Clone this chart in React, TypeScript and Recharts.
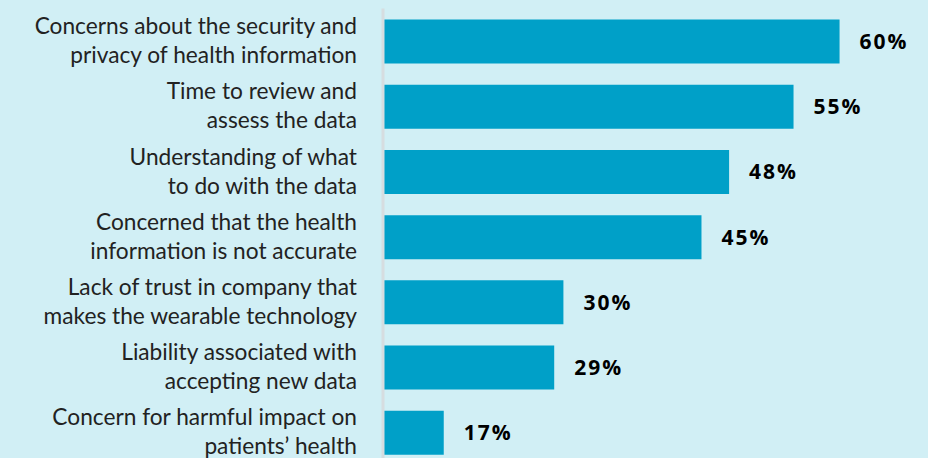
import { BarChart, Bar, XAxis, YAxis, LabelList } from "recharts";

const labels = [
  ["Concerns about the security and", "privacy of health information"],
  ["Time to review and", "assess the data"],
  ["Understanding of what", "to do with the data"],
  ["Concerned that the health", "information is not accurate"],
  ["Lack of trust in company that", "makes the wearable technology"],
  ["Liability associated with", "accepting new data"],
  ["Concern for harmful impact on", "patients\u2019 health"],
];
const values = [60, 55, 48, 45, 30, 29, 17];

const data = labels.map((l, i) => ({ name: l.join("|"), value: values[i] }));

function Tick(props: any) {
  const { x, y, payload } = props;
  const lines = String(payload.value).split("|");
  return (
    <text
      x={x}
      y={y}
      textAnchor="end"
      fill="#222"
      fontSize={22.7}
      fontFamily="Lato, sans-serif"
    >
      <tspan x={x} dy={-7}>{lines[0]}</tspan>
      <tspan x={x} dy={29}>{lines[1]}</tspan>
    </text>
  );
}

export default function App() {
  return (
    <div
      style={{
        position: "absolute",
        left: 0,
        top: 0,
        width: 928,
        height: 458,
        overflow: "hidden",
        background: "#d1eff5",
      }}
    >
      <BarChart
        width={928}
        height={466}
        data={data}
        layout="vertical"
        margin={{ top: 8.5, right: 1, bottom: 1, left: 0 }}
      >
        <XAxis type="number" hide domain={[10.4, 69.5]} />
        <YAxis
          type="category"
          dataKey="name"
          width={383}
          tickSize={0}
          tickMargin={26}
          tick={<Tick />}
          axisLine={{ stroke: "#d6dde0", strokeWidth: 3 }}
          interval={0}
        />
        <Bar dataKey="value" fill="#00a0c8" barSize={44} isAnimationActive={false}>
          <LabelList
            dataKey="value"
            position="right"
            offset={20}
            formatter={(v: any) => `${v}%`}
            fill="#000"
            fontSize={21}
            fontWeight={700}
            fontFamily="'Open Sans', sans-serif"
            letterSpacing={2}
          />
        </Bar>
      </BarChart>
    </div>
  );
}
